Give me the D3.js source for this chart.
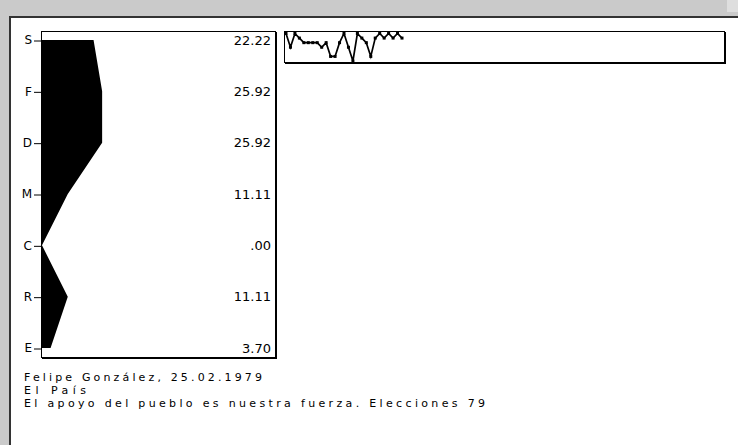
<!DOCTYPE html>
<html><head><meta charset="utf-8">
<script src="https://cdn.jsdelivr.net/npm/d3@7"></script>
<style>
html,body{margin:0;padding:0;background:#fff;}
svg{display:block;}
</style></head>
<body>
<script>
// ---- data ----
const categories = ["S","F","D","M","C","R","E"];
const values = [22.22, 25.92, 25.92, 11.11, 0, 11.11, 3.70];
const valueLabels = ["22.22","25.92","25.92","11.11",".00","11.11","3.70"];
const sequence = ["S","M","S","F","D","D","D","D","M","D","R","R","D","S","M","E","S","F","D","R","F","S","F","S","F","S","F"];
const captionLines = ["Felipe González, 25.02.1979","El País","El apoyo del pueblo es nuestra fuerza. Elecciones 79"];

const W = 738, H = 445;
const svg = d3.select("body").append("svg").attr("width", W).attr("height", H);

// window frame
svg.append("rect").attr("x",0).attr("y",0).attr("width",W).attr("height",16).attr("fill","#cacaca");
svg.append("rect").attr("x",727).attr("y",0).attr("width",W-727).attr("height",12).attr("fill","#dedede");
svg.append("rect").attr("x",0).attr("y",0).attr("width",10).attr("height",H).attr("fill","#cacaca");
svg.append("rect").attr("x",10).attr("y",16).attr("width",W-10).attr("height",2).attr("fill","#333");
svg.append("rect").attr("x",9).attr("y",16).attr("width",2).attr("height",H-16).attr("fill","#333");

const font = "'DejaVu Sans', Verdana, sans-serif";

// main chart scales
const y = d3.scalePoint().domain(categories).range([40, 348]);
const x = d3.scaleLinear().domain([0, 100]).range([42, 274]);

// box
const box = {x0:41, y0:31, x1:275, y1:357};
svg.append("rect").attr("x",box.x0+0.5).attr("y",box.y0+0.5)
  .attr("width",box.x1-box.x0).attr("height",box.y1-box.y0)
  .attr("fill","#fff").attr("stroke","#000").attr("stroke-width",1);
svg.append("line").attr("x1",box.x1+1.5).attr("x2",box.x1+1.5).attr("y1",box.y0+1).attr("y2",box.y1+2).attr("stroke","#000");
svg.append("line").attr("x1",box.x0+1).attr("x2",box.x1+2).attr("y1",box.y1+1.5).attr("y2",box.y1+1.5).attr("stroke","#000");

// area
const rows = categories.map((c,i)=>({c, v: values[i], label: valueLabels[i]}));
const area = d3.area().x0(x(0)).x1(d=>x(d.v)).y(d=>y(d.c)).curve(d3.curveLinear);
svg.append("path").datum(rows).attr("d", area).attr("fill","#000");

// axis
const axis = d3.axisLeft(y).tickSize(7).tickPadding(2);
const ag = svg.append("g").attr("transform","translate(41,0)").call(axis);
ag.select(".domain").remove();
ag.selectAll(".tick line").attr("stroke","#000").attr("transform","translate(0,0.5)");
ag.selectAll(".tick text").attr("font-family",font).attr("font-size","12px").attr("fill","#000");

// value labels
svg.selectAll("text.val").data(rows).enter().append("text").attr("class","val")
  .attr("x", 271).attr("y", d=>y(d.c)).attr("dy","0.36em")
  .attr("text-anchor","end").attr("font-family",font).attr("font-size","13px")
  .text(d=>d.label);

// sparkline box
const sb = {x0:284, y0:31, x1:724, y1:62};
svg.append("rect").attr("x",sb.x0+0.5).attr("y",sb.y0+0.5)
  .attr("width",sb.x1-sb.x0).attr("height",sb.y1-sb.y0)
  .attr("fill","#fff").attr("stroke","#000");
svg.append("line").attr("x1",sb.x1+1.5).attr("x2",sb.x1+1.5).attr("y1",sb.y0+1).attr("y2",sb.y1+2).attr("stroke","#000");
svg.append("line").attr("x1",sb.x0+1).attr("x2",sb.x1+2).attr("y1",sb.y1+1.5).attr("y2",sb.y1+1.5).attr("stroke","#000");

const sx = d3.scaleLinear().domain([0, sequence.length-1]).range([286, 402]);
const sy = d3.scalePoint().domain(categories).range([33.5, 61]);
const line = d3.line().x((d,i)=>sx(i)).y(d=>sy(d));
svg.append("path").datum(sequence).attr("d", line).attr("fill","none").attr("stroke","#000").attr("stroke-width",1.7);
svg.selectAll("rect.pt").data(sequence).enter().append("rect").attr("class","pt")
  .attr("x",(d,i)=>sx(i)-1.5).attr("y",d=>sy(d)-1.5).attr("width",3).attr("height",3).attr("fill","#000");

// caption
const capLens = [238, 62, 461];
svg.selectAll("text.cap").data(captionLines).enter().append("text").attr("class","cap")
  .attr("x",24).attr("y",(d,i)=>381 + i*13)
  .attr("font-family",font).attr("font-size","11px")
  .attr("textLength",(d,i)=>capLens[i]).attr("lengthAdjust","spacing")
  .text(d=>d);
</script>
</body></html>
